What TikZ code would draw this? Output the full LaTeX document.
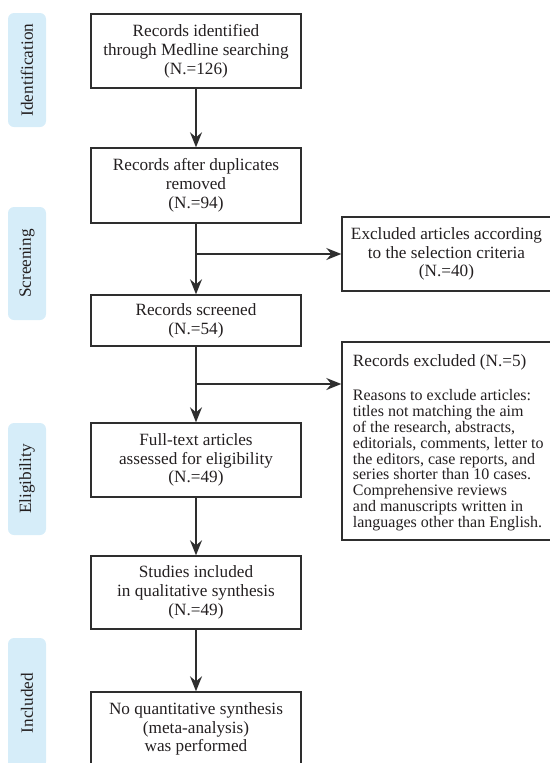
\documentclass[tikz,border=0pt]{standalone}
\usepackage{fontspec}
\setmainfont{Liberation Serif}
\usetikzlibrary{arrows.meta,calc}
\definecolor{linecol}{HTML}{2E2E2E}
\definecolor{txtcol}{HTML}{231F20}
\definecolor{labfill}{HTML}{D6EDF9}
\tikzset{
  flowbox/.style={draw=linecol, line width=1.4pt, rectangle, align=center, inner sep=0pt,
    minimum width=210pt, text=txtcol, font=\fontsize{17.2}{18.8}\selectfont},
  sidebox/.style={draw=linecol, line width=1.4pt, rectangle, inner sep=0pt,
    minimum width=209pt, text=txtcol, align=center, font=\fontsize{17.2}{18.8}\selectfont},
  phase/.style={fill=labfill, draw=none, rounded corners=6pt, rotate=90, inner sep=0pt,
    minimum height=38pt, text=txtcol, font=\fontsize{17.2}{18.8}\selectfont},
  flowarrow/.style={draw=linecol, line width=1.4pt, -{Stealth[length=15pt,width=12pt,inset=5pt]}},
  flowline/.style={draw=linecol, line width=1.4pt}
}
\begin{document}
\begin{tikzpicture}[x=1pt,y=1pt]
\useasboundingbox (0,0) rectangle (549,-763);
% phase labels
\node[phase, minimum width=114pt] (lid) at (27,-70) {Identification};
\node[phase, minimum width=113pt] (lsc) at (27,-263.5) {Screening};
\node[phase, minimum width=112pt] (lel) at (27,-479) {Eligibility};
\node[phase, minimum width=130pt] (lin) at (27,-703) {Included};
% main boxes
\node[flowbox, minimum height=74pt] (b1) at (196,-51) {Records identified\\through Medline searching\\(N.=126)};
\node[flowbox, minimum height=75pt] (b2) at (196,-185.5) {Records after duplicates\\removed\\(N.=94)};
\node[flowbox, minimum height=51pt] (b3) at (196,-320.5) {Records screened\\(N.=54)};
\node[flowbox, minimum height=74pt] (b4) at (196,-460) {Full-text articles\\assessed for eligibility\\(N.=49)};
\node[flowbox, minimum height=73pt] (b5) at (196,-592.5) {Studies included\\in qualitative synthesis\\(N.=49)};
\node[flowbox, minimum height=74pt] (b6) at (196,-729) {No quantitative synthesis\\(meta-analysis)\\was performed};
% side boxes
\node[sidebox, minimum height=74pt] (e1) at (446.5,-254) {Excluded articles according\\to the selection criteria\\(N.=40)};
\node[sidebox, minimum height=198pt] (e2) at (446.5,-441) {};
\node[anchor=west, inner sep=0pt, text=txtcol, font=\fontsize{17.2}{18.8}\selectfont] (e2t) at (352.7,-362.3) {Records excluded (N.=5)};
\node[anchor=north west, inner sep=0pt, align=left, text=txtcol, font=\fontsize{16}{15.83}\selectfont] (e2r) at (352.7,-389.5) {Reasons to exclude articles:\\titles not matching the aim\\of the research, abstracts,\\editorials, comments, letter to\\the editors, case reports, and\\series shorter than 10 cases.\\Comprehensive reviews\\and manuscripts written in\\languages other than English.};
% connectors
\coordinate (j1) at (196,-254);
\coordinate (j2) at (196,-384);
\draw[flowarrow] (b1.south) -- (b2.north);
\draw[flowarrow] (b2.south) -- (b3.north);
\draw[flowarrow] (j1) -- (e1.west);
\draw[flowarrow] (b3.south) -- (b4.north);
\draw[flowarrow] (j2) -- (j2 -| e2.west);
\draw[flowarrow] (b4.south) -- (b5.north);
\draw[flowarrow] (b5.south) -- (b6.north);
\end{tikzpicture}
\end{document}
